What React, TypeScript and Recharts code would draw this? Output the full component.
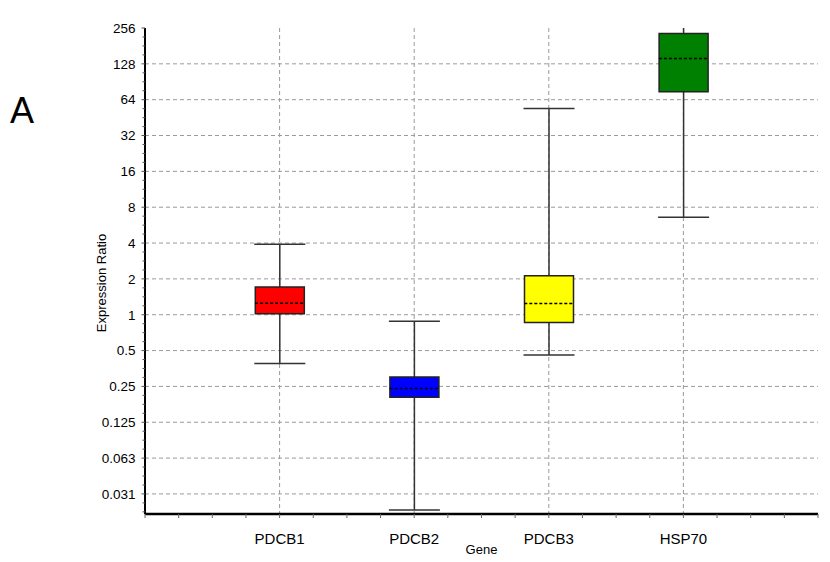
import React from "react";
import {
  Bar,
  CartesianGrid,
  Cell,
  ComposedChart,
  Label,
  Scatter,
  XAxis,
  YAxis,
} from "recharts";

// box plot values (expression ratio, log2 axis)
const genes = ["PDCB1", "PDCB2", "PDCB3", "HSP70"];
const colors = ["#ff0000", "#0000ff", "#ffff00", "#008000"];
const mins = [0.39, 0.0229, 0.46, 6.6];
const q1s = [1.02, 0.203, 0.86, 74.5];
const medians = [1.25, 0.24, 1.24, 142];
const q3s = [1.71, 0.3, 2.13, 230];
const maxs = [3.9, 0.88, 54, 300];

const yTicks = [0.03125, 0.0625, 0.125, 0.25, 0.5, 1, 2, 4, 8, 16, 32, 64, 128, 256];
const yTickLabels = ["0.031", "0.063", "0.125", "0.25", "0.5", "1", "2", "4", "8", "16", "32", "64", "128", "256"];

const FONT = "'Liberation Sans', Arial, sans-serif";
const Y_TICK_SIZE = 3;
const Y_TICK_MARGIN = 6.5;

const data = genes.map((g, i) => ({
  gene: g,
  pos: i + 1,
  min: mins[i],
  q1: q1s[i],
  median: medians[i],
  q3: q3s[i],
  max: maxs[i],
  color: colors[i],
}));

// quarter steps between the major log2 ticks
const yAllTicks: number[] = [];
yTicks.forEach((t, i) => {
  yAllTicks.push(t);
  if (i < yTicks.length - 1) {
    for (let k = 1; k < 4; k++) yAllTicks.push(t * Math.pow(2, k / 4));
  }
});
yAllTicks.unshift(yTicks[0] * Math.pow(2, -0.25), yTicks[0] * Math.pow(2, -0.5));

const xTicks: number[] = [];
for (let k = 0; k <= genes.length + 1; k += 0.25) xTicks.push(k);

const YTick = (props: any) => {
  const { x, y, payload } = props;
  const axisX = x + Y_TICK_SIZE + Y_TICK_MARGIN;
  const idx = yTicks.indexOf(payload.value);
  const major = idx >= 0;
  return (
    <g>
      <line x1={axisX - (major ? 3.5 : 2.5)} x2={axisX} y1={y} y2={y} stroke="#555" strokeWidth={1} />
      {major && (
        <text x={x} y={y} dy="0.355em" textAnchor="end" fontSize={13.5} fontFamily={FONT} fill="#000">
          {yTickLabels[idx]}
        </text>
      )}
    </g>
  );
};

const Whisker = (props: any) => {
  const { x, y, width, height } = props;
  const cx = x + width / 2;
  return (
    <g stroke="#333" strokeWidth={1.5}>
      <line x1={cx} x2={cx} y1={y} y2={y + height} />
      <line x1={x - 1} x2={x + width + 1} y1={y} y2={y} />
      <line x1={x - 1} x2={x + width + 1} y1={y + height} y2={y + height} />
    </g>
  );
};

const MedianMark = (props: any) => {
  const { cx, cy } = props;
  return (
    <line
      x1={cx - 24.5}
      x2={cx + 24.5}
      y1={cy}
      y2={cy}
      stroke="#000"
      strokeWidth={1.5}
      strokeDasharray="3 2"
    />
  );
};

export default function App() {
  return (
    <div style={{ position: "absolute", left: 0, top: 0, width: 830, height: 562, background: "#fff" }}>
      <ComposedChart
        width={830}
        height={562}
        data={data}
        margin={{ top: 28, right: 12, bottom: 8, left: 85 }}
        barSize={49}
        barGap={-49}
      >
        <CartesianGrid
          stroke="#9a9a9a"
          strokeDasharray="4 3"
          horizontalValues={yTicks.slice(0, -1)}
          verticalValues={data.map((d) => d.pos)}
        />
        <XAxis
          dataKey="pos"
          type="number"
          domain={[0, genes.length + 1]}
          ticks={xTicks}
          interval={0}
          tickSize={4}
          tickMargin={15}
          height={40}
          axisLine={{ stroke: "#000", strokeWidth: 2.5 }}
          tickLine={{ stroke: "#666" }}
          tick={{ fontSize: 15, fontFamily: FONT, fill: "#000" }}
          tickFormatter={(v: number) => (Number.isInteger(v) && v >= 1 && v <= genes.length ? genes[v - 1] : "")}
        >
          <Label value="Gene" position="insideBottom" offset={0} fontSize={13} fontFamily={FONT} fill="#000" />
        </XAxis>
        <YAxis
          type="number"
          scale="log"
          domain={[0.0212, 256]}
          allowDataOverflow
          ticks={yAllTicks}
          interval={0}
          width={60}
          tickSize={Y_TICK_SIZE}
          tickMargin={Y_TICK_MARGIN}
          tickLine={false}
          axisLine={{ stroke: "#000", strokeWidth: 2 }}
          tick={<YTick />}
        >
          <Label
            content={(p: any) => {
              const vb = p.viewBox;
              const cx = vb.x + 16;
              const cy = vb.y + vb.height / 2 + 12;
              return (
                <text
                  x={cx}
                  y={cy}
                  transform={`rotate(-90 ${cx} ${cy})`}
                  textAnchor="middle"
                  dominantBaseline="central"
                  fontSize={13}
                  fontFamily={FONT}
                  fill="#000"
                >
                  Expression Ratio
                </text>
              );
            }}
          />
        </YAxis>
        <Bar dataKey={(d: any) => [d.min, d.max]} shape={<Whisker />} isAnimationActive={false} />
        <Bar dataKey={(d: any) => [d.q1, d.q3]} stroke="#222" strokeWidth={1.5} isAnimationActive={false}>
          {data.map((d, i) => (
            <Cell key={`box-${i}`} fill={d.color} />
          ))}
        </Bar>
        <Scatter dataKey="median" shape={<MedianMark />} isAnimationActive={false} />
      </ComposedChart>
      <svg width={830} height={562} style={{ position: "absolute", left: 0, top: 0, pointerEvents: "none" }}>
        <text x={10} y={123} fontSize={36} fontFamily={FONT} fill="#000">
          A
        </text>
      </svg>
    </div>
  );
}
